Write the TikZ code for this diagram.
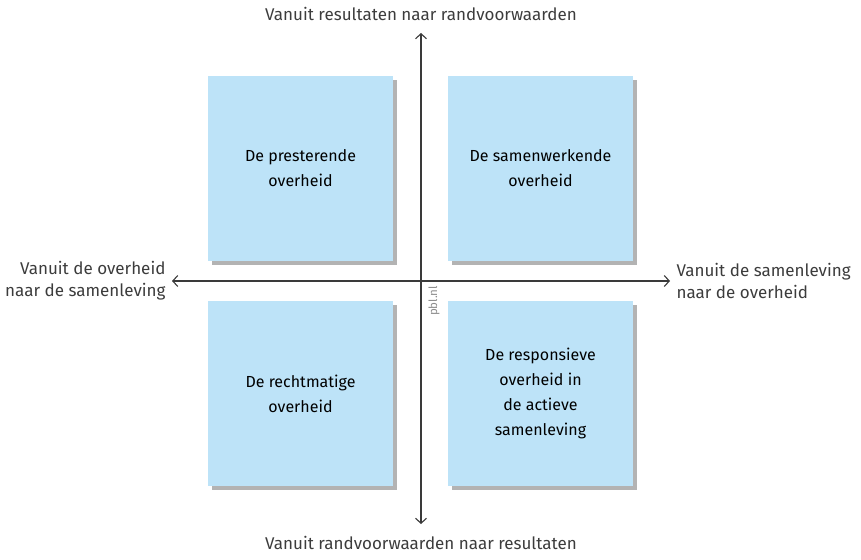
\documentclass[tikz,border=0pt]{standalone}
\usepackage{fontspec}
\setmainfont{Fira Sans}
\usetikzlibrary{arrows.meta,positioning,shadows}
\definecolor{quadblue}{HTML}{BDE3F8}
\definecolor{shadegray}{HTML}{B3B3B3}
\definecolor{axisgray}{HTML}{3A3A3A}
\definecolor{txtgray}{HTML}{3C3C3C}
\definecolor{markgray}{HTML}{8C8C8C}
\begin{document}
\begin{tikzpicture}[x=1pt,y=-1pt,every node/.style={font=\fontsize{17}{22}\selectfont,text=txtgray}]
    \tikzset{
      quad/.style={fill=quadblue,minimum width=185pt,minimum height=185pt,
        inner sep=0pt,align=center,text=black,
        font=\fontsize{16}{25}\selectfont,
        general shadow={fill=shadegray,shadow xshift=4pt,shadow yshift=-4pt}},
      axis/.style={draw=axisgray,line width=1.1pt,
        {Straight Barb[length=5pt,width=11pt]}-{Straight Barb[length=5pt,width=11pt]}}
    }
    \useasboundingbox (0,0) rectangle (861,559);

    % the two axes
    \coordinate (top) at (421,33);
    \coordinate (bot) at (421,524);
    \coordinate (lft) at (172,281);
    \coordinate (rgt) at (670,281);
    \draw[axis] (bot) -- (top);
    \draw[axis] (lft) -- (rgt);

    % four quadrants
    \node[quad] (pres) at (300.5,168.5) {De presterende\\overheid};
    \node[quad] (samen) at (540.5,168.5) {De samenwerkende\\overheid};
    \node[quad] (recht) at (300.5,393.5) {De rechtmatige\\overheid};
    \node[quad] (resp) at (540.5,393.5)
      {De responsieve\\overheid in\\de actieve\\samenleving};

    % axis labels
    \node[above=9pt of top] (toplab) {Vanuit resultaten naar randvoorwaarden};
    \node[below=9pt of bot] (botlab) {Vanuit randvoorwaarden naar resultaten};
    \node[left=3pt of lft,align=right] (lftlab)
      {Vanuit de overheid\\naar de samenleving};
    \node[right=3pt of rgt,align=left] (rgtlab)
      {Vanuit de samenleving\\naar de overheid};

    \node[rotate=90,text=markgray,font=\fontsize{11.5}{12}\selectfont]
      (pbl) at (434,301) {pbl.nl};
  \end{tikzpicture}
\end{document}
